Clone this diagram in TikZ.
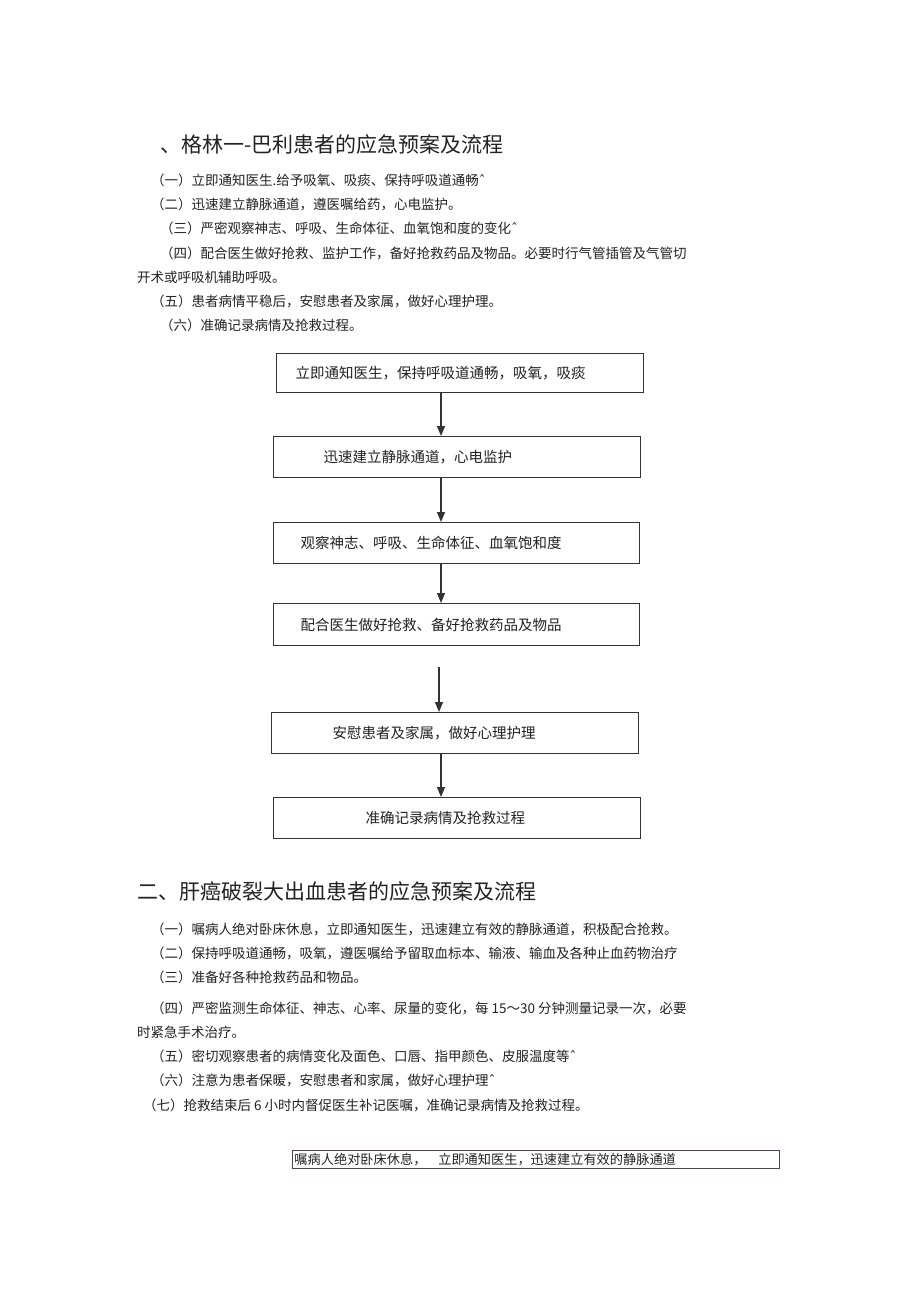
\documentclass[tikz,border=0pt]{standalone}
\usepackage{fontspec}
\usetikzlibrary{arrows.meta}
\newfontfamily\cjk{Noto Sans CJK SC}
\newfontfamily\dvsans{DejaVu Sans}
\newcommand{\crt}{{\dvsans ˆ}}
\definecolor{ink}{HTML}{222222}
\definecolor{boxline}{HTML}{333333}
\definecolor{lastline}{HTML}{4F4352}
\tikzset{
  ttl/.style={anchor=base west, inner sep=0pt, text=ink, font=\cjk\fontsize{21}{24}\selectfont},
  txt/.style={anchor=base west, inner sep=0pt, text=ink, font=\cjk\fontsize{13.5}{16}\selectfont},
  flowbox/.style={draw=boxline, line width=1.1pt, anchor=north west, minimum height=#1, inner ysep=0pt, align=left, text=ink, font=\cjk\fontsize{14.5}{17}\selectfont},
  lastbox/.style={draw=lastline, line width=0.9pt, anchor=north west, minimum height=18pt, inner ysep=0pt, inner xsep=2pt, text width=483pt, align=left, text=ink, font=\cjk\fontsize{13.2}{15}\selectfont},
  arr/.style={draw=boxline, line width=1.2pt, -{Triangle[length=10pt,width=8pt]}}
}
\begin{document}
\begin{tikzpicture}[x=1pt,y=-1pt]
\useasboundingbox[fill=white] (0,0) rectangle (920,1303);

% Section 1
\node[ttl] (h1) at (160,153) {、格林一-巴利患者的应急预案及流程};
\node[txt] (p11) at (151,185) {（一）立即通知医生.给予吸氧、吸痰、保持呼吸道通畅\crt};
\node[txt] (p12) at (151,209) {（二）迅速建立静脉通道，遵医嘱给药，心电监护。};
\node[txt] (p13) at (160,233) {（三）严密观察神志、呼吸、生命体征、血氧饱和度的变化\crt};
\node[txt] (p14) at (160,258) {（四）配合医生做好抢救、监护工作，备好抢救药品及物品。必要时行气管插管及气管切};
\node[txt] (p14b) at (137,282) {开术或呼吸机辅助呼吸。};
\node[txt] (p15) at (151,306) {（五）患者病情平稳后，安慰患者及家属，做好心理护理。};
\node[txt] (p16) at (160,330) {（六）准确记录病情及抢救过程。};

% Flowchart
\node[flowbox=39pt, inner xsep=19pt, text width=329pt] (b1) at (276,353) {立即通知医生，保持呼吸道通畅，吸氧，吸痰};
\node[flowbox=41pt, inner xsep=50pt, text width=267pt] (b2) at (273,436) {迅速建立静脉通道，心电监护};
\node[flowbox=41pt, inner xsep=27pt, text width=312pt] (b3) at (273,522) {观察神志、呼吸、生命体征、血氧饱和度};
\node[flowbox=42pt, inner xsep=27pt, text width=312pt] (b4) at (273,603) {配合医生做好抢救、备好抢救药品及物品};
\node[flowbox=41pt, inner xsep=61pt, text width=245pt] (b5) at (271,712) {安慰患者及家属，做好心理护理};
\node[flowbox=41pt, inner xsep=92pt, text width=183pt] (b6) at (273,797) {准确记录病情及抢救过程};

\coordinate (ax1) at (441,0);
\coordinate (ax2) at (439,0);
\coordinate (a4s) at (439,667);
\draw[arr] (b1.south -| ax1) -- (b2.north -| ax1);
\draw[arr] (b2.south -| ax1) -- (b3.north -| ax1);
\draw[arr] (b3.south -| ax1) -- (b4.north -| ax1);
\draw[arr] (a4s) -- (b5.north -| ax2);
\draw[arr] (b5.south -| ax1) -- (b6.north -| ax1);

% Section 2
\node[ttl] (h2) at (137,899) {二、肝癌破裂大出血患者的应急预案及流程};
\node[txt] (q1) at (151,934) {（一）嘱病人绝对卧床休息，立即通知医生，迅速建立有效的静脉通道，积极配合抢救。};
\node[txt] (q2) at (151,958) {（二）保持呼吸道通畅，吸氧，遵医嘱给予留取血标本、输液、输血及各种止血药物治疗};
\node[txt] (q3) at (151,982) {（三）准备好各种抢救药品和物品。};
\node[txt] (q4) at (151,1013) {（四）严密监测生命体征、神志、心率、尿量的变化，每 15～30 分钟测量记录一次，必要};
\node[txt] (q4b) at (137,1037) {时紧急手术治疗。};
\node[txt] (q5) at (151,1061) {（五）密切观察患者的病情变化及面色、口唇、指甲颜色、皮服温度等\crt};
\node[txt] (q6) at (151,1085) {（六）注意为患者保暖，安慰患者和家属，做好心理护理\crt};
\node[txt] (q7) at (143,1110) {（七）抢救结束后 6 小时内督促医生补记医嘱，准确记录病情及抢救过程。};

\node[lastbox] (c1) at (292,1150) {嘱病人绝对卧床休息，\hspace{0.9em}立即通知医生，迅速建立有效的静脉通道};
\end{tikzpicture}
\end{document}
